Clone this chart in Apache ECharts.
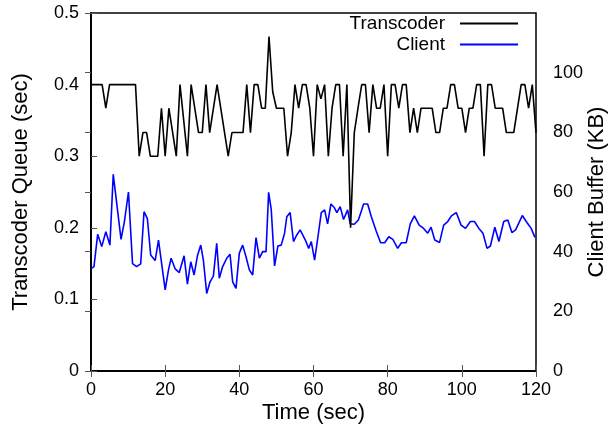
<!DOCTYPE html>
<html>
<head>
<meta charset="utf-8">
<script src="https://cdn.jsdelivr.net/npm/echarts@6/dist/echarts.min.js"></script>
<style>
    html, body { margin: 0; padding: 0; background: #fff; }
    #chart { width: 613px; height: 431px; }
</style>
</head>
<body>
<div id="chart"></div>
<script>
// Transcoder queue (sec), vertices of the black line
var queueTime = [0, 3, 4, 5, 12, 13, 14, 15, 16, 18, 19, 20, 21, 23, 24, 26, 27, 29, 30, 31,
    32, 34, 37, 38, 41, 42, 43, 44, 45, 46, 47, 48, 49, 50, 52, 53, 54, 55, 56, 57,
    58, 59, 60, 61, 62, 63, 64, 65, 66, 67, 68, 69, 70, 71, 72, 73, 74, 75, 76, 77,
    78, 79, 80, 81, 82, 83, 84, 85, 86, 87, 88, 89, 92, 93, 94, 95, 96, 97, 98, 99,
    100, 101, 102, 103, 104, 105, 106, 107, 108, 109, 111, 112, 114, 116, 117, 118, 119, 120];
var queueSec = [0.4, 0.4, 0.367, 0.4, 0.4, 0.3, 0.333, 0.333, 0.3, 0.3, 0.367, 0.3, 0.367, 0.3, 0.4, 0.3, 0.4, 0.333, 0.333, 0.4,
    0.333, 0.4, 0.3, 0.333, 0.333, 0.4, 0.333, 0.4, 0.4, 0.367, 0.367, 0.467, 0.39, 0.367, 0.367, 0.3, 0.333, 0.4, 0.367, 0.4,
    0.4, 0.367, 0.3, 0.4, 0.38, 0.4, 0.3, 0.367, 0.4, 0.4, 0.3, 0.4, 0.2, 0.333, 0.367, 0.4, 0.4, 0.333, 0.4, 0.367,
    0.367, 0.4, 0.3, 0.4, 0.4, 0.367, 0.4, 0.4, 0.333, 0.367, 0.333, 0.367, 0.367, 0.333, 0.333, 0.367, 0.367, 0.4, 0.4, 0.367,
    0.367, 0.333, 0.367, 0.367, 0.4, 0.4, 0.3, 0.4, 0.4, 0.367, 0.367, 0.333, 0.333, 0.4, 0.4, 0.367, 0.4, 0.333];

// Client buffer (KB), blue line
var bufferTime = [0, 0.8, 1.8, 2.9, 4.0, 5.1, 6.0, 8.1, 9.0, 10.1, 11.2, 12.3, 13.4, 14.3, 15.2, 16.1, 17.3, 18.2, 20.0, 20.9,
    21.6, 22.7, 23.8, 25.1, 26.0, 26.9, 27.8, 28.7, 29.6,
    30.3, 31.2, 32.1, 33.0, 33.9, 34.6, 35.5, 36.6, 37.5, 38.2, 39.1, 40.0, 40.9, 41.8, 42.7, 43.6, 44.5, 45.4, 46.3, 47.2,
    47.9, 48.6, 49.5, 50.4, 51.3, 52.2, 52.8, 53.7, 54.6, 55.5, 56.4, 56.9, 57.8, 58.7, 59.4,
    60.3, 61.2, 62.1, 63.0, 63.8, 64.7, 65.6, 66.3, 67.2, 68.1, 69.2, 69.9, 71.0, 72.1, 73.0, 73.5, 74.6, 75.6, 76.9, 78.1,
    79.2, 80.3, 81.4, 82.7, 83.7, 85.0, 86.1, 87.2, 88.5, 89.7,
    90.8, 91.7, 92.7, 94.0, 95.1, 96.2, 97.2, 98.5, 99.8, 101.0, 102.3, 103.4, 104.6, 105.7, 106.8, 107.7, 108.9, 110.0,
    111.3, 112.4, 113.5, 114.5, 116.3, 117.6, 118.7, 119.7];
var bufferKB = [34.3, 35.0, 45.8, 41.7, 46.7, 42.2, 65.9, 44.1, 50.0, 60.0, 36.0, 35.0, 35.9, 53.4, 51.1, 38.9, 37.0, 43.9, 27.2, 33.9,
    37.8, 34.2, 33.0, 38.6, 29.1, 36.6, 32.2, 38.6, 42.2,
    37.2, 26.0, 29.9, 31.8, 42.8, 31.1, 35.0, 37.8, 39.1, 29.9, 27.7, 39.5, 42.2, 38.3, 33.9, 32.2, 44.7, 37.8, 40.0, 40.0,
    59.9, 54.2, 35.2, 41.9, 42.2, 46.2, 51.7, 53.1, 43.4, 45.6, 47.3, 47.8, 43.9, 41.1, 43.4,
    37.2, 45.0, 53.1, 54.0, 49.3, 56.0, 54.8, 53.1, 55.1, 50.8, 54.0, 49.3, 49.2, 50.6, 54.0, 56.0, 56.0, 51.7, 46.9, 43.0,
    43.0, 45.0, 44.1, 41.1, 43.0, 43.0, 49.3, 52.0, 48.9, 47.8,
    46.2, 48.2, 43.9, 43.1, 48.9, 50.1, 52.0, 53.1, 48.9, 47.8, 50.1, 50.1, 47.8, 46.2, 41.1, 41.9, 48.2, 43.4,
    50.1, 50.6, 46.4, 47.3, 52.1, 49.7, 47.8, 44.8];

var font = 'Liberation Sans, Arial, Helvetica, sans-serif';

function pairs(xs, ys) {
    var out = [];
    for (var i = 0; i < xs.length; i++) {
        out.push([xs[i], ys[i]]);
    }
    return out;
}

var tickStyle = { inside: true, length: 6, lineStyle: { color: '#555', width: 1 } };
var lineAxis = { show: true, lineStyle: { color: '#000', width: 1.5 } };

var chartDom = document.getElementById('chart');
var myChart = echarts.init(chartDom, null, { renderer: 'canvas' });
var option = {
    animation: false,
    backgroundColor: '#fff',
    textStyle: { fontFamily: font },
    grid: {
        left: 91, right: 77, top: 13, bottom: 60,
        outerBoundsMode: 'none',
        show: true, borderColor: '#000', borderWidth: 1.5
    },
    legend: {
        orient: 'vertical',
        right: 95,
        top: 14,
        padding: 0,
        align: 'right',
        icon: 'rect',
        itemWidth: 58,
        itemHeight: 2,
        itemGap: 2,
        data: ['Transcoder', 'Client'],
        textStyle: { fontSize: 19, color: '#000', fontFamily: font, padding: [0, 10, 0, 0] }
    },
    xAxis: [{
        type: 'value',
        min: 0, max: 120, interval: 20,
        axisLine: lineAxis,
        axisTick: tickStyle,
        splitLine: { show: false },
        axisLabel: { color: '#000', fontSize: 18, margin: 10, fontFamily: font },
        name: 'Time (sec)',
        nameLocation: 'middle',
        nameGap: 31,
        nameMoveOverlap: false,
        nameTextStyle: { fontSize: 22, color: '#000', fontFamily: font, verticalAlign: 'top' }
    }, {
        type: 'value',
        position: 'top',
        min: 0, max: 120, interval: 20,
        axisLine: lineAxis,
        axisTick: tickStyle,
        splitLine: { show: false },
        axisLabel: { show: false }
    }],
    yAxis: [{
        type: 'value',
        position: 'left',
        min: 0, max: 0.5, interval: 0.1,
        axisLine: lineAxis,
        axisTick: tickStyle,
        splitLine: { show: false },
        axisLabel: {
            color: '#000', fontSize: 18, margin: 12, fontFamily: font,
            formatter: function (v) { return v === 0 ? '0' : v.toFixed(1); }
        },
        name: 'Transcoder Queue (sec)',
        nameLocation: 'middle',
        nameGap: 59,
        nameMoveOverlap: false,
        nameTextStyle: { fontSize: 22, color: '#000', fontFamily: font }
    }, {
        type: 'value',
        position: 'right',
        min: 0, max: 120, interval: 20,
        axisLine: lineAxis,
        axisTick: tickStyle,
        splitLine: { show: false },
        axisLabel: {
            color: '#000', fontSize: 18, margin: 17, fontFamily: font,
            formatter: function (v) { return v === 120 ? '' : String(v); }
        },
        name: 'Client Buffer (KB)',
        nameLocation: 'middle',
        nameGap: 50,
        nameMoveOverlap: false,
        nameTextStyle: { fontSize: 22, color: '#000', fontFamily: font }
    }],
    series: [{
        name: 'Client',
        type: 'line',
        yAxisIndex: 1,
        data: pairs(bufferTime, bufferKB),
        symbol: 'none',
        lineStyle: { color: '#0000ff', width: 1.6 },
        itemStyle: { color: '#0000ff' },
        z: 2
    }, {
        name: 'Transcoder',
        type: 'line',
        yAxisIndex: 0,
        data: pairs(queueTime, queueSec),
        symbol: 'none',
        lineStyle: { color: '#000', width: 1.6 },
        itemStyle: { color: '#000' },
        z: 3
    }]
};
option && myChart.setOption(option);
</script>
</body>
</html>
